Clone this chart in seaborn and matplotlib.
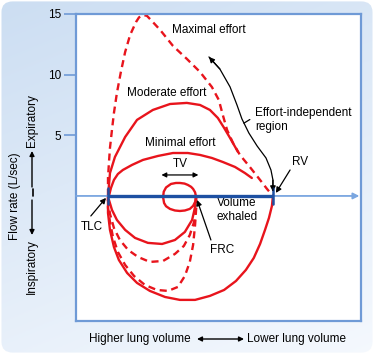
import numpy as np
import matplotlib
matplotlib.use("Agg")
import matplotlib.pyplot as plt
import seaborn as sns
from matplotlib.patches import FancyBboxPatch

# volume exhaled (L, 0 = TLC, 5 = RV) and flow (L/sec)
max_exp_vol = [0, 0, 0.03, 0.06, 0.12, 0.18, 0.27, 0.39, 0.52, 0.67, 0.85, 0.94, 1.06, 1.18, 1.30, 1.58,
               1.97, 2.39, 2.79, 3.15, 3.36, 3.48, 3.61, 3.79, 4.0, 4.30, 4.61, 4.82, 5.0]
max_exp_flow = [0, 1.48, 2.80, 3.96, 5.44, 6.84, 8.49, 10.22, 11.87, 13.27, 14.34, 14.72, 14.92, 14.85, 14.51, 13.69,
                12.37, 11.30, 10.22, 8.98, 7.91, 6.68, 5.44, 4.37, 3.38, 2.39, 1.32, 0.58, 0]

mod_exp_vol = [0, 0.03, 0.06, 0.21, 0.52, 0.88, 1.36, 1.88, 2.39, 2.79, 3.09, 3.33, 3.52, 3.70, 3.94]
mod_exp_flow = [0, 0.91, 1.89, 3.21, 4.86, 6.27, 7.09, 7.58, 7.67, 7.50, 7.09, 6.43, 5.61, 4.78, 3.63]

min_exp_vol = [0.03, 0.09, 0.18, 0.30, 0.45, 0.73, 1.06, 1.52, 1.97, 2.42, 2.79, 3.15, 3.48, 3.85, 4.15, 4.36]
min_exp_flow = [0, 0.66, 1.32, 1.81, 2.14, 2.56, 2.97, 3.30, 3.54, 3.54, 3.38, 3.13, 2.80, 2.39, 1.89, 1.48]

max_insp_vol = [5.0, 4.97, 4.88, 4.76, 4.61, 4.42, 4.18, 3.88, 3.52, 3.09, 2.64, 2.18, 1.73, 1.27,
                0.88, 0.58, 0.33, 0.18, 0.06, 0, 0]
max_insp_flow = [0, -0.82, -1.81, -2.80, -3.96, -5.11, -6.10, -7.01, -7.75, -8.24, -8.57, -8.57, -8.33, -7.83,
                 -7.17, -6.35, -5.28, -4.21, -2.80, -1.40, 0]

mod_insp_vol = [2.67, 2.67, 2.64, 2.58, 2.48, 2.33, 2.12, 1.82, 1.48, 1.12, 0.79, 0.52, 0.30, 0.15, 0.06, 0, 0]
mod_insp_flow = [0, -1.15, -2.39, -4.04, -5.44, -6.60, -7.50, -7.83, -7.75, -7.34, -6.60, -5.69, -4.62,
                 -3.38, -2.14, -0.99, 0]

low_insp_vol = [2.67, 2.67, 2.61, 2.48, 2.30, 2.03, 1.67, 1.27, 0.91, 0.61, 0.36, 0.18, 0.06, 0]
low_insp_flow = [0, -0.99, -2.14, -3.22, -4.12, -4.78, -5.36, -5.44, -5.03, -4.45, -3.63, -2.64, -1.48, -0.33]

min_insp_vol = [2.67, 2.64, 2.55, 2.33, 2.03, 1.64, 1.21, 0.82, 0.52, 0.27, 0.12, 0.03]
min_insp_flow = [0, -0.91, -1.98, -2.97, -3.63, -3.96, -3.87, -3.46, -2.80, -1.98, -1.15, -0.33]

tv_vol = [2.67, 2.65, 2.58, 2.48, 2.33, 2.18, 2.03, 1.88, 1.76, 1.70, 1.67, 1.69, 1.76, 1.91, 2.06,
          2.18, 2.32, 2.42, 2.52, 2.58, 2.64, 2.67]
tv_flow = [-0.08, -0.45, -0.82, -1.07, -1.20, -1.24, -1.20, -1.07, -0.85, -0.58, -0.10, 0.35, 0.70, 0.99, 1.07,
           1.07, 1.02, 0.91, 0.75, 0.58, 0.30, -0.08]

effort_vol = [3.06, 3.39, 3.70, 3.91, 4.06, 4.27, 4.52, 4.79, 4.94, 5.0, 5.0]
effort_flow = [11.46, 10.47, 8.99, 7.50, 6.35, 5.19, 4.12, 3.13, 2.14, 1.32, 0.45]

tlc, frc, rv = 0.0, 2.67, 5.0
y_ticks = [5, 10, 15]

red = "#e8141c"
frame_blue = "#6f9ad6"
dark_blue = "#1d50a2"

sns.set_theme(style="white")
plt.rcParams['font.family'] = ['Liberation Sans', 'DejaVu Sans']
plt.rcParams['text.color'] = 'black'
plt.rcParams['ytick.labelcolor'] = 'black'
fs = 8.5

fig = plt.figure(figsize=(3.74, 3.54), dpi=100)

# rounded gradient background
bg = fig.add_axes([0, 0, 1, 1], zorder=0)
bg.set_axis_off()
gx, gy = np.meshgrid(np.linspace(0, 1, 200), np.linspace(0, 1, 200))
t = (0.7 * gy + 0.3 * gx)[..., None]
c0 = np.array([0.80, 0.87, 0.95])
c1 = np.array([0.96, 0.975, 0.995])
img = c0 * (1 - t) + c1 * t
im = bg.imshow(img, extent=[0, 1, 0, 1], aspect='auto', origin='upper')
clip = FancyBboxPatch((0.004, 0.004), 0.992, 0.992, boxstyle="round,pad=0,rounding_size=0.03",
                      transform=bg.transAxes, facecolor='none', edgecolor='none')
bg.add_patch(clip)
im.set_clip_path(clip)
bg.set_xlim(0, 1)
bg.set_ylim(0, 1)

ax = fig.add_axes([76 / 374, 33 / 354, 285 / 374, 307 / 354], zorder=1)
ax.set_facecolor('white')

lw = 1.7
dash = (0, (3, 2))
sns.lineplot(x=max_exp_vol, y=max_exp_flow, sort=False, estimator=None, ax=ax, color=red, lw=lw, ls=dash)
sns.lineplot(x=mod_exp_vol, y=mod_exp_flow, sort=False, estimator=None, ax=ax, color=red, lw=lw)
sns.lineplot(x=min_exp_vol, y=min_exp_flow, sort=False, estimator=None, ax=ax, color=red, lw=lw)
sns.lineplot(x=max_insp_vol, y=max_insp_flow, sort=False, estimator=None, ax=ax, color=red, lw=lw)
sns.lineplot(x=mod_insp_vol, y=mod_insp_flow, sort=False, estimator=None, ax=ax, color=red, lw=lw, ls=dash)
sns.lineplot(x=low_insp_vol, y=low_insp_flow, sort=False, estimator=None, ax=ax, color=red, lw=lw, ls=dash)
sns.lineplot(x=min_insp_vol, y=min_insp_flow, sort=False, estimator=None, ax=ax, color=red, lw=lw)
sns.lineplot(x=tv_vol, y=tv_flow, sort=False, estimator=None, ax=ax, color=red, lw=lw)
for line in ax.lines:
    line.set_solid_joinstyle('round')

ax.set_xlim(-0.97, 7.67)
ax.set_ylim(-10.31, 15.0)

# zero-flow axis and volume exhaled bar
ax.annotate('', xy=(7.62, 0), xytext=(-0.97, 0),
            arrowprops=dict(arrowstyle='-|>', color='#7aa6e0', lw=1.3, mutation_scale=9, shrinkA=0, shrinkB=0),
            zorder=3)
ax.plot([tlc, rv], [0, 0], color=dark_blue, lw=2.4, zorder=4, solid_capstyle='butt')
for v in (tlc, rv):
    ax.plot([v, v], [-0.66, 0.66], color=dark_blue, lw=1.8, zorder=4)

# effort-independent arrow
ax.plot(effort_vol, effort_flow, color='black', lw=0.9, zorder=5)
arr = dict(arrowstyle='-|>', color='black', lw=0.9, mutation_scale=8, shrinkA=0, shrinkB=0)
ax.annotate('', xy=(effort_vol[0], effort_flow[0]), xytext=(effort_vol[1], effort_flow[1]), arrowprops=arr)
ax.annotate('', xy=(rv, 0.35), xytext=(rv, 1.3), arrowprops=arr)
ax.plot([4.12, 4.30], [6.0, 6.3], color='black', lw=0.9)

# labels
ax.text(1.94, 13.69, "Maximal effort", ha='left', va='center', fontsize=fs)
ax.text(0.58, 8.49, "Moderate effort", ha='left', va='center', fontsize=fs)
ax.text(1.12, 4.37, "Minimal effort", ha='left', va='center', fontsize=fs)
ax.text(4.45, 6.27, "Effort-independent\nregion", ha='left', va='center', fontsize=fs, linespacing=1.25)
ax.text(2.18, 2.60, "TV", ha='center', va='center', fontsize=fs)
ax.annotate('', xy=(1.62, 1.73), xytext=(2.74, 1.73),
            arrowprops=dict(arrowstyle='<|-|>', color='black', lw=0.9, mutation_scale=7, shrinkA=0, shrinkB=0))
ax.text(3.91, -1.15, "Volume\nexhaled", ha='center', va='center', fontsize=fs, linespacing=1.15)
ax.text(5.82, 2.80, "RV", ha='center', va='center', fontsize=fs)
ax.annotate('', xy=(5.09, 0.25), xytext=(5.52, 2.14), arrowprops=arr)
ax.text(-0.48, -2.60, "TLC", ha='center', va='center', fontsize=fs)
ax.annotate('', xy=(-0.06, -0.16), xytext=(-0.52, -1.65), arrowprops=arr)
ax.text(3.45, -4.45, "FRC", ha='center', va='center', fontsize=fs)
ax.annotate('', xy=(2.70, -0.33), xytext=(3.12, -3.63), arrowprops=arr)

ax.set_xticks([])
ax.set_yticks(y_ticks)
ax.set_yticklabels([str(v) for v in y_ticks], fontsize=fs, color='black')
ax.tick_params(axis='y', left=True, length=9, width=1.2, color=frame_blue, pad=1.5)
for s in ax.spines.values():
    s.set_color(frame_blue)
    s.set_linewidth(1.6)
ax.set_xlabel('')
ax.set_ylabel('')

# outside annotations in pixel coordinates
ov = fig.add_axes([0, 0, 1, 1], zorder=2)
ov.set_xlim(0, 374)
ov.set_ylim(354, 0)
ov.set_axis_off()
ov.patch.set_alpha(0)
ov.text(15, 196, "Flow rate (L/sec)", rotation=90, ha='center', va='center', fontsize=fs)
ov.text(32, 121, "Expiratory", rotation=90, ha='center', va='center', fontsize=fs)
ov.text(32, 267, "Inspiratory", rotation=90, ha='center', va='center', fontsize=fs)
small = dict(arrowstyle='-|>', color='black', lw=1.0, mutation_scale=7, shrinkA=0, shrinkB=0)
ov.annotate('', xy=(32, 151), xytext=(32, 187), arrowprops=small)
ov.annotate('', xy=(32, 235), xytext=(32, 200), arrowprops=small)
ov.plot([33, 33], [189, 196], color='black', lw=1.2)
ov.text(89, 339, "Higher lung volume", ha='left', va='center', fontsize=fs)
ov.annotate('', xy=(244, 339), xytext=(197, 339),
            arrowprops=dict(arrowstyle='<|-|>', color='black', lw=1.0, mutation_scale=7, shrinkA=0, shrinkB=0))
ov.text(247, 339, "Lower lung volume", ha='left', va='center', fontsize=fs)

fig.savefig("out.png", dpi=100)
